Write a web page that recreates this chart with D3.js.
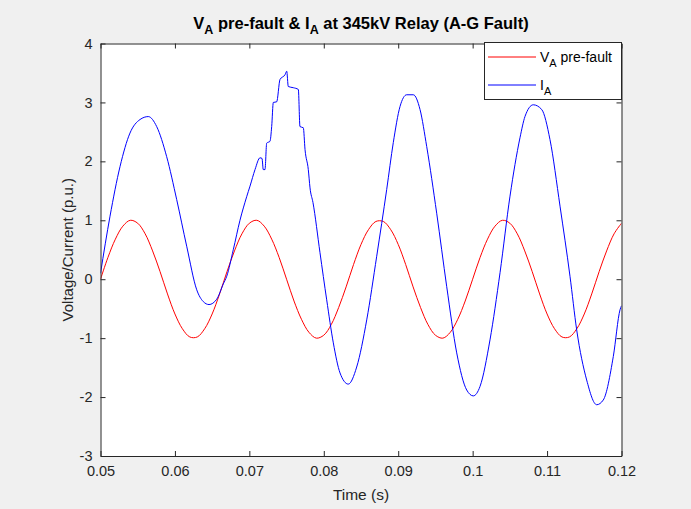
<!DOCTYPE html>
<html>
<head>
<meta charset="utf-8">
<script src="https://cdn.jsdelivr.net/npm/d3@7"></script>
<style>
body { margin: 0; background: #f0f0f0; }
text { font-family: "Liberation Sans", Arial, sans-serif; fill: #262626; }
</style>
</head>
<body>
<div id="view"></div>
<script>
var width = 691, height = 509;

// axis ticks
var xTicks = [0.05, 0.06, 0.07, 0.08, 0.09, 0.1, 0.11, 0.12];
var yTicks = [-3, -2, -1, 0, 1, 2, 3, 4];

// V_A pre-fault, sampled every 1 ms from t = 0.05 s
var vStart = 0.05, vStep = 0.001;
var vA = [0.00, 0.37, 0.68, 0.90, 1.00, 0.95, 0.77, 0.48, 0.13, -0.25,
	-0.59, -0.84, -0.98, -0.98, -0.84, -0.59, -0.25, 0.13, 0.48, 0.77,
	0.95, 1.00, 0.90, 0.68, 0.37, 0.00, -0.37, -0.68, -0.90, -1.00,
	-0.95, -0.77, -0.48, -0.13, 0.25, 0.59, 0.84, 0.98, 0.98, 0.84,
	0.59, 0.25, -0.13, -0.48, -0.77, -0.95, -1.00, -0.90, -0.68, -0.37,
	0.00, 0.37, 0.68, 0.90, 1.00, 0.95, 0.77, 0.48, 0.13, -0.25,
	-0.59, -0.84, -0.98, -0.98, -0.84, -0.59, -0.25, 0.13, 0.48, 0.77,
	0.95];

// I_A (time, value)
var tI = [0.05, 0.05128, 0.05262, 0.05396, 0.05531, 0.05642, 0.05755, 0.05889, 0.06024, 0.06158,
	0.06293, 0.06381, 0.06458, 0.06561, 0.06650, 0.06696, 0.06784, 0.06874, 0.06964, 0.07009,
	0.07076, 0.07143, 0.07170, 0.07187, 0.07210, 0.07233, 0.07277, 0.07300, 0.07322, 0.07367,
	0.07412, 0.07479, 0.07502, 0.07523, 0.07590, 0.07658, 0.07680, 0.07725, 0.07748, 0.07792,
	0.07815, 0.07855, 0.07949, 0.08039, 0.08128, 0.08218, 0.08329, 0.08442, 0.08577, 0.08711,
	0.08845, 0.08934, 0.09024, 0.09114, 0.09203, 0.09293, 0.09383, 0.09517, 0.09651, 0.09786,
	0.09920, 0.10009, 0.10099, 0.10233, 0.10368, 0.10502, 0.10636, 0.10703, 0.10815, 0.10928,
	0.11039, 0.11174, 0.11308, 0.11398, 0.11532, 0.11667, 0.11755, 0.11890, 0.11980, 0.12];
var iA = [0.10, 1.07, 1.91, 2.48, 2.71, 2.76, 2.59, 2.08, 1.35, 0.56,
	-0.18, -0.38, -0.43, -0.34, -0.08, 0.05, 0.50, 1.00, 1.40, 1.58,
	1.86, 2.06, 2.05, 1.86, 1.86, 2.31, 2.34, 2.59, 3.00, 3.01,
	3.39, 3.47, 3.53, 3.27, 3.25, 3.22, 2.59, 2.57, 2.20, 1.86,
	1.55, 1.30, 0.45, -0.35, -1.08, -1.59, -1.78, -1.49, -0.69, 0.39,
	1.52, 2.32, 2.93, 3.13, 3.13, 2.88, 2.25, 1.12, -0.12, -1.25,
	-1.88, -1.98, -1.82, -1.03, 0.11, 1.41, 2.40, 2.76, 2.96, 2.88,
	2.37, 1.24, 0.05, -0.86, -1.71, -2.13, -2.05, -1.31, -0.52, -0.45];

var plot = { left: 100.5, right: 621.5, top: 43.5, bottom: 456 };

var svg = d3.select("#view").append("svg")
	.attr("width", width)
	.attr("height", height);

svg.append("rect").attr("width", width).attr("height", height).attr("fill", "#f0f0f0");

var x = d3.scaleLinear().domain([0.05, 0.12]).range([plot.left, plot.right]);
var y = d3.scaleLinear().domain([-3, 4]).range([plot.bottom, plot.top]);

svg.append("rect")
	.attr("x", plot.left).attr("y", plot.top)
	.attr("width", plot.right - plot.left).attr("height", plot.bottom - plot.top)
	.attr("fill", "#ffffff");

svg.append("clipPath").attr("id", "clip")
	.append("rect")
	.attr("x", plot.left).attr("y", plot.top)
	.attr("width", plot.right - plot.left).attr("height", plot.bottom - plot.top);

// data
var vPoints = vA.map(function(v, k) { return [vStart + k * vStep, v]; });
var iPoints = iA.map(function(v, k) { return [tI[k], v]; });

var lineV = d3.line()
	.x(function(d) { return x(d[0]); })
	.y(function(d) { return y(d[1]); })
	.curve(d3.curveCatmullRom.alpha(0.5));
var lineI = d3.line()
	.x(function(d) { return x(d[0]); })
	.y(function(d) { return y(d[1]); })
	.curve(d3.curveMonotoneX);

var g = svg.append("g").attr("clip-path", "url(#clip)");
g.append("path").datum(vPoints)
	.attr("d", lineV)
	.attr("fill", "none").attr("stroke", "#ff0000").attr("stroke-width", 1);
g.append("path").datum(iPoints)
	.attr("d", lineI)
	.attr("fill", "none").attr("stroke", "#0000ff").attr("stroke-width", 1);

// axes (ticks inward, box on)
var fmt = function(d) { return String(d); };   // plain hyphen, no trailing zeros
function styleAxis(sel) {
	sel.selectAll("path, line").attr("stroke", "#262626");
	sel.selectAll("text").attr("fill", "#262626").style("font-size", "14.5px")
		.style("font-family", "'Liberation Sans', Arial, sans-serif");
}
svg.append("g").attr("transform", "translate(0," + plot.bottom + ")")
	.call(d3.axisBottom(x).tickValues(xTicks).tickSizeInner(-5).tickSizeOuter(0).tickPadding(10)
		.tickFormat(fmt))
	.call(styleAxis);
svg.append("g").attr("transform", "translate(0," + plot.top + ")")
	.call(d3.axisTop(x).tickValues(xTicks).tickSizeInner(-5).tickSizeOuter(0).tickFormat(""))
	.call(styleAxis);
svg.append("g").attr("transform", "translate(" + plot.left + ",0)")
	.call(d3.axisLeft(y).tickValues(yTicks).tickSizeInner(-5).tickSizeOuter(0).tickPadding(8)
		.tickFormat(fmt))
	.call(styleAxis);
svg.append("g").attr("transform", "translate(" + plot.right + ",0)")
	.call(d3.axisRight(y).tickValues(yTicks).tickSizeInner(-5).tickSizeOuter(0).tickFormat(""))
	.call(styleAxis);

// labels
svg.append("text")
	.attr("x", (plot.left + plot.right) / 2).attr("y", 500)
	.attr("text-anchor", "middle").style("font-size", "15.5px")
	.text("Time (s)");
svg.append("text")
	.attr("transform", "translate(73," + ((plot.top + plot.bottom) / 2) + ") rotate(-90)")
	.attr("text-anchor", "middle").style("font-size", "15px")
	.text("Voltage/Current (p.u.)");

// title with subscripts
var title = svg.append("text")
	.attr("x", (plot.left + plot.right) / 2).attr("y", 29)
	.attr("text-anchor", "middle")
	.style("font-size", "16.5px").style("font-weight", "bold").style("fill", "#000");
title.append("tspan").text("V");
title.append("tspan").attr("dy", 5).style("font-size", "12.5px").text("A");
title.append("tspan").attr("dy", -5).text(" pre-fault & I");
title.append("tspan").attr("dy", 5).style("font-size", "12.5px").text("A");
title.append("tspan").attr("dy", -5).text(" at 345kV Relay (A-G Fault)");

// legend
var legend = [
	{ name: "V", sub: "A", rest: " pre-fault", color: "#ff0000" },
	{ name: "I", sub: "A", rest: "", color: "#0000ff" }
];
var lg = svg.append("g");
lg.append("rect")
	.attr("x", 484.5).attr("y", 42.5).attr("width", 137).attr("height", 57)
	.attr("fill", "#ffffff").attr("stroke", "#262626").attr("stroke-width", 1);
legend.forEach(function(d, i) {
	var yy = 57 + i * 28;
	lg.append("line")
		.attr("x1", 488).attr("x2", 536).attr("y1", yy).attr("y2", yy)
		.attr("stroke", d.color).attr("stroke-width", 1);
	var t = lg.append("text").attr("x", 540).attr("y", yy + 5).style("font-size", "14px").style("fill", "#000");
	t.append("tspan").text(d.name);
	t.append("tspan").attr("dy", 5).style("font-size", "11px").text(d.sub);
	if (d.rest) t.append("tspan").attr("dy", -5).text(d.rest);
});
</script>
</body>
</html>
